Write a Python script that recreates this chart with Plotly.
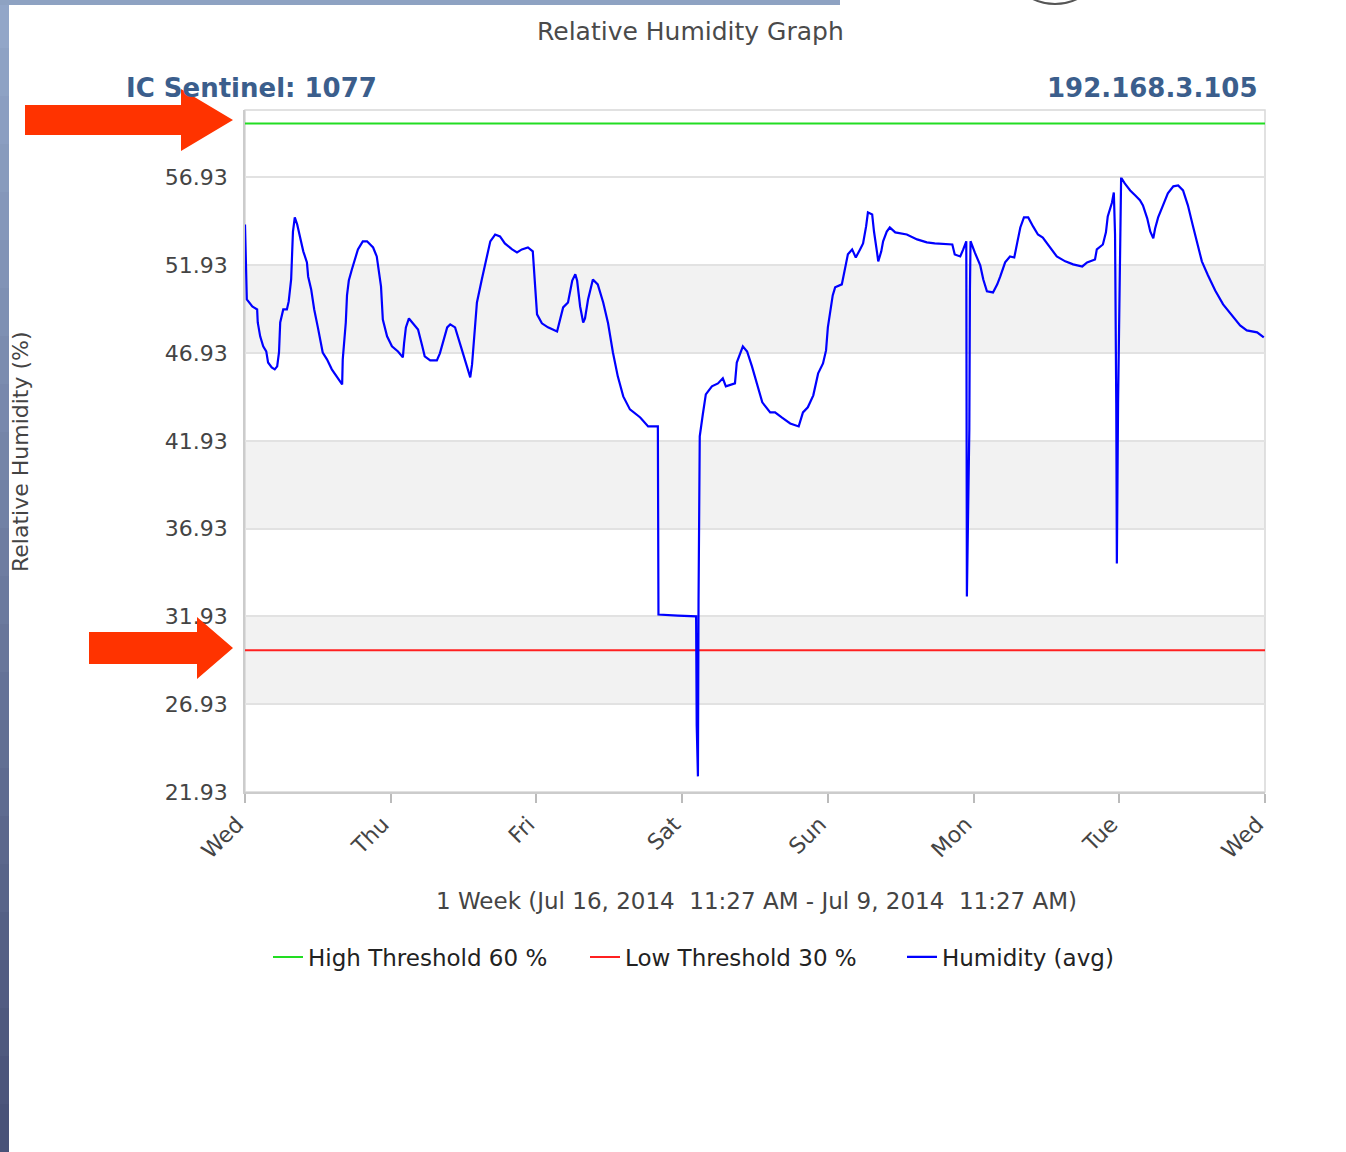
import plotly.graph_objects as go

# ---------------- data ----------------
hours = [0.0, 0.2, 0.3, 1.2, 2.0, 2.1, 2.5, 3.0, 3.5, 3.8, 4.4, 4.9, 5.3, 5.6, 5.8, 6.3, 6.9, 7.2, 7.6, 7.9,
         8.2, 8.6, 9.1, 9.6, 10.2, 10.4, 10.9, 11.4, 12.0, 12.8, 13.5, 14.3, 15.2, 16.0, 16.1, 16.6, 16.8, 17.1,
         17.6, 18.1, 18.6, 19.4, 20.1, 21.1, 21.7, 22.4, 22.7, 23.4, 24.2, 25.2, 26.0, 26.2, 26.5, 27.0, 27.7,
         28.5, 29.2, 29.6, 30.5, 31.6, 32.1, 32.6, 33.3, 33.8, 34.6, 35.4, 36.2, 37.1, 37.4, 37.9, 38.2, 39.0,
         39.7, 40.4, 41.2, 42.0, 42.8, 44.0, 44.8, 45.6, 46.6, 47.4, 47.8, 48.1, 48.9, 49.9, 51.4, 51.9, 52.4,
         53.2, 53.9, 54.4, 54.7, 55.2, 55.7, 56.0, 56.5, 57.3, 58.1, 59.0, 59.8, 60.6, 61.4, 62.3, 63.4, 65.1,
         66.4, 68.0, 68.1, 71.3, 74.3, 74.4, 74.6, 74.7, 74.9, 75.4, 75.9, 76.9, 77.9, 78.7, 79.2, 80.7, 81.0,
         82.0, 82.7, 83.5, 84.3, 85.2, 86.5, 87.3, 88.4, 89.8, 91.2, 91.9, 92.7, 93.6, 94.4, 95.2, 95.7, 96.0,
         96.8, 97.2, 98.3, 98.8, 99.3, 100.0, 100.6, 101.3, 101.8, 102.3, 102.6, 103.3, 103.6, 104.1, 104.3,
         104.8, 105.1, 105.7, 106.2, 107.1, 109.0, 110.7, 112.3, 113.6, 116.5, 116.9, 117.8, 118.3, 118.8,
         118.9, 119.1, 119.3, 119.4, 119.5, 120.2, 121.1, 121.6, 122.2, 123.2, 123.9, 124.4, 125.2, 126.0,
         126.7, 127.2, 127.7, 128.3, 129.0, 129.8, 130.6, 131.4, 132.6, 133.7, 135.1, 136.4, 137.9, 138.7,
         140.0, 140.3, 141.3, 141.8, 142.1, 142.8, 143.1, 143.3, 143.5, 143.6, 143.7, 143.8, 144.3, 144.4,
         144.9, 145.8, 146.6, 147.4, 147.9, 148.6, 149.1, 149.6, 149.9, 150.4, 151.2, 152.0, 152.9, 153.7,
         154.5, 155.3, 156.1, 157.0, 157.6, 158.6, 159.8, 161.1, 162.6, 163.9, 165.0, 166.7, 167.8]
humidity = [54.25, 51.69, 49.98, 49.58, 49.41, 48.67, 47.88, 47.31, 47.02, 46.39, 46.11, 46.00, 46.17, 46.96,
            48.67, 49.41, 49.41, 49.87, 51.12, 53.85, 54.65, 54.25, 53.51, 52.72, 52.09, 51.29, 50.55, 49.41,
            48.39, 46.96, 46.57, 46.00, 45.54, 45.14, 46.57, 48.67, 50.21, 51.06, 51.69, 52.26, 52.83, 53.29,
            53.29, 52.94, 52.43, 50.72, 48.84, 47.88, 47.31, 47.02, 46.68, 47.48, 48.39, 48.90, 48.62, 48.27,
            47.31, 46.74, 46.51, 46.51, 46.91, 47.53, 48.39, 48.56, 48.39, 47.48, 46.57, 45.54, 46.28, 48.39,
            49.81, 51.12, 52.26, 53.29, 53.68, 53.57, 53.17, 52.83, 52.66, 52.83, 52.94, 52.72, 50.67, 49.13,
            48.62, 48.39, 48.16, 48.90, 49.53, 49.81, 51.06, 51.41, 51.06, 49.58, 48.67, 48.90, 49.98, 51.12,
            50.84, 49.81, 48.62, 46.96, 45.60, 44.46, 43.72, 43.26, 42.75, 42.75, 32.04, 31.98, 31.93, 25.72,
            22.82, 32.84, 42.18, 43.43, 44.57, 45.03, 45.20, 45.49, 45.03, 45.20, 46.39, 47.31, 47.02, 46.17,
            45.26, 44.12, 43.55, 43.55, 43.26, 42.92, 42.75, 43.55, 43.84, 44.52, 45.77, 46.34, 47.08, 48.39,
            50.21, 50.67, 50.84, 51.69, 52.55, 52.83, 52.37, 52.83, 53.17, 54.14, 54.94, 54.82, 53.85, 52.66,
            52.15, 52.72, 53.29, 53.85, 54.08, 53.80, 53.68, 53.40, 53.23, 53.17, 53.11, 52.54, 52.43, 52.83,
            53.29, 33.07, 37.28, 42.58, 50.50, 53.30, 52.66, 51.92, 51.12, 50.44, 50.38, 50.84, 51.29, 52.09,
            52.43, 52.37, 53.23, 54.08, 54.65, 54.65, 54.14, 53.68, 53.51, 52.94, 52.43, 52.15, 51.98, 51.86,
            52.09, 52.26, 52.83, 53.11, 53.80, 54.71, 55.50, 56.07, 53.68, 44.06, 34.95, 39.56, 44.06, 56.87,
            56.87, 56.59, 56.19, 55.91, 55.63, 55.34, 54.60, 53.85, 53.46, 54.02, 54.65, 55.34, 56.02, 56.42,
            56.47, 56.19, 55.34, 54.20, 53.06, 52.15, 51.36, 50.49, 49.70, 49.07, 48.50, 48.22, 48.11, 47.82]

high_threshold = 60
low_threshold = 30
x_span = [0, 168]

day_ticks = [0, 24, 48, 72, 96, 120, 144, 168]
day_labels = ["Wed", "Thu", "Fri", "Sat", "Sun", "Mon", "Tue", "Wed"]
y_ticks = [21.93, 26.93, 31.93, 36.93, 41.93, 46.93, 51.93, 56.93]
y_range = [21.93, 60.77]
band_ranges = [(26.93, 31.93), (36.93, 41.93), (46.93, 51.93)]

# ---------------- layout constants ----------------
W, H = 1346, 1152
L, R, T, B = 245, 1265, 110, 792
FONT = "DejaVu Sans"


def px(xp):
    return (xp - L) / (R - L)


def py(yp):
    return (B - yp) / (B - T)


fig = go.Figure()

fig.add_trace(go.Scatter(x=x_span, y=[high_threshold] * 2, mode="lines",
                         line=dict(color="#22dd22", width=2), name="High Threshold 60 %"))
fig.add_trace(go.Scatter(x=x_span, y=[low_threshold] * 2, mode="lines",
                         line=dict(color="#ff2020", width=2), name="Low Threshold 30 %"))
fig.add_trace(go.Scatter(x=hours, y=humidity, mode="lines",
                         line=dict(color="#0000ff", width=2.2), name="Humidity (avg)"))

shapes = []
# alternating grey bands
for lo, hi in band_ranges:
    shapes.append(dict(type="rect", xref="paper", yref="y", x0=0, x1=1, y0=lo, y1=hi,
                       fillcolor="#f2f2f2", line=dict(width=0), layer="below"))
# plot frame
shapes.append(dict(type="rect", xref="paper", yref="paper", x0=0, x1=1, y0=0, y1=1,
                   line=dict(color="#d8d8d8", width=1.5), layer="below"))

# left gradient strip and top strip (page decoration)
n = 24
c0 = (0x92, 0xa6, 0xc8)
c1 = (0x48, 0x52, 0x78)
for i in range(n):
    t = i / (n - 1)
    c = tuple(int(c0[k] + (c1[k] - c0[k]) * t) for k in range(3))
    y_top = i * H / n
    y_bot = (i + 1) * H / n + 1
    shapes.append(dict(type="rect", xref="paper", yref="paper", x0=px(0), x1=px(9),
                       y0=py(y_bot), y1=py(y_top), fillcolor="rgb(%d,%d,%d)" % c,
                       line=dict(width=0), layer="above"))
shapes.append(dict(type="rect", xref="paper", yref="paper", x0=px(0), x1=px(840),
                   y0=py(5), y1=py(0), fillcolor="#8ea2c2", line=dict(width=0), layer="above"))
# emblem fragment at top
shapes.append(dict(type="circle", xref="paper", yref="paper", x0=px(1005), x1=px(1105),
                   y0=py(4), y1=py(-96), line=dict(color="#555555", width=2),
                   fillcolor="rgba(0,0,0,0)", layer="above"))


# red arrows
def arrow(x0, xb, xt, yc, half_body, half_head):
    path = ("M {a},{b1} L {c},{b1} L {c},{h1} L {t},{m} L {c},{h2} L {c},{b2} L {a},{b2} Z").format(
        a=px(x0), c=px(xb), t=px(xt), m=py(yc),
        b1=py(yc - half_body), b2=py(yc + half_body),
        h1=py(yc - half_head), h2=py(yc + half_head))
    return dict(type="path", xref="paper", yref="paper", path=path,
                fillcolor="#ff3300", line=dict(width=0), layer="above")


shapes.append(arrow(25, 181, 233, 120, 15, 31))
shapes.append(arrow(89, 197, 233, 648, 16, 31))

annotations = [
    dict(text="Relative Humidity Graph", x=px(690), y=py(31), xref="paper", yref="paper",
         showarrow=False, xanchor="center", yanchor="middle",
         font=dict(family=FONT, size=25, color="#4a4a4a")),
    dict(text="<b>IC Sentinel: 1077</b>", x=px(124), y=py(88), xref="paper", yref="paper",
         showarrow=False, xanchor="left", yanchor="middle",
         font=dict(family=FONT, size=26, color="#3b5e8c")),
    dict(text="<b>192.168.3.105</b>", x=px(1260), y=py(88), xref="paper", yref="paper",
         showarrow=False, xanchor="right", yanchor="middle",
         font=dict(family=FONT, size=26, color="#3b5e8c")),
    dict(text="Relative Humidity (%)", x=px(20), y=py(452), xref="paper", yref="paper",
         showarrow=False, textangle=-90, xanchor="center", yanchor="middle",
         font=dict(family=FONT, size=22, color="#444444")),
    dict(text="1 Week (Jul 16, 2014 \u00a011:27 AM - Jul 9, 2014 \u00a011:27 AM)",
         x=px(756), y=py(901), xref="paper", yref="paper",
         showarrow=False, xanchor="center", yanchor="middle",
         font=dict(family=FONT, size=23, color="#444444")),
]

fig.update_layout(
    width=W, height=H,
    margin=dict(l=L, r=W - R, t=T, b=H - B, autoexpand=False),
    paper_bgcolor="white", plot_bgcolor="white",
    shapes=shapes, annotations=annotations,
    showlegend=True,
    legend=dict(orientation="h", x=px(268), y=py(957), xanchor="left", yanchor="middle",
                font=dict(family=FONT, size=23, color="#222222"), bgcolor="rgba(0,0,0,0)",
                entrywidth=272, entrywidthmode="pixels", tracegroupgap=0),
    font=dict(family=FONT),
)
fig.update_xaxes(range=x_span, tickvals=day_ticks, ticktext=day_labels, tickangle=-45,
                 ticks="outside", ticklen=9, tickcolor="#bbbbbb", tickwidth=1.5,
                 ticklabelshift=-8,
                 showgrid=False, zeroline=False, showline=True, linecolor="#cccccc", linewidth=1.5,
                 tickfont=dict(family=FONT, size=22, color="#444444"))
fig.update_yaxes(range=y_range, tickvals=y_ticks, tickformat=".2f",
                 ticks="outside", ticklen=11, tickcolor="rgba(0,0,0,0)",
                 showgrid=True, gridcolor="#e2e2e2", gridwidth=1.5, zeroline=False,
                 showline=True, linecolor="#cccccc", linewidth=1.5,
                 tickfont=dict(family=FONT, size=22, color="#444444"))

fig.write_html("out.html", config={"displayModeBar": False},
               post_script="document.body.style.margin='0px';")
